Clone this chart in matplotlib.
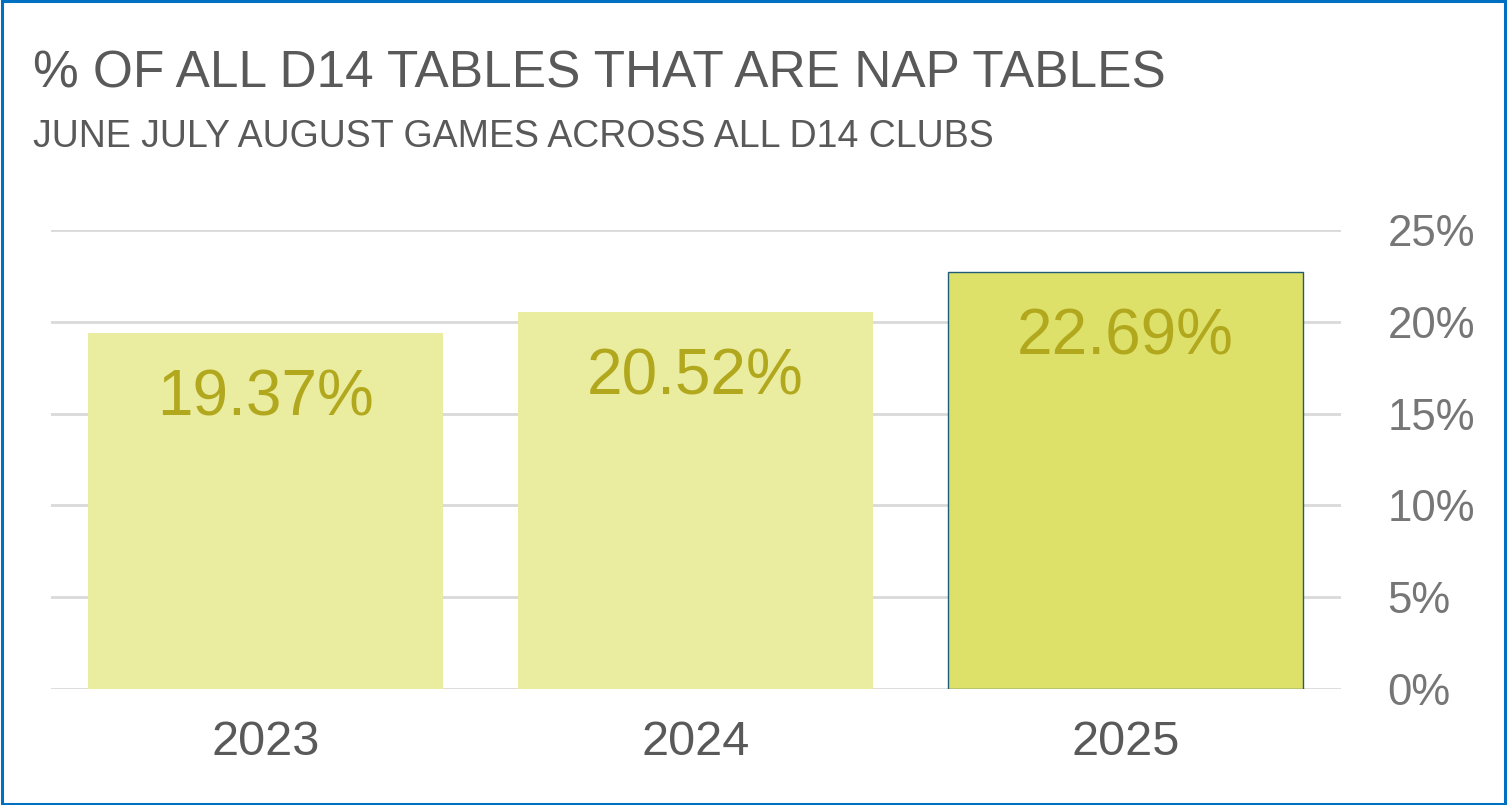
import matplotlib
matplotlib.use("Agg")
import matplotlib.pyplot as plt
from matplotlib.patches import Rectangle
from matplotlib.ticker import FuncFormatter, MultipleLocator
from matplotlib import font_manager

plt.rcParams['font.family'] = ['Liberation Sans', 'DejaVu Sans']

categories = ["2023", "2024", "2025"]
values = [19.37, 20.52, 22.69]
value_labels = ["19.37%", "20.52%", "22.69%"]
title = "% OF ALL D14 TABLES THAT ARE NAP TABLES"
subtitle = "JUNE JULY AUGUST GAMES ACROSS ALL D14 CLUBS"

names = {f.name for f in font_manager.fontManager.ttflist}
narrow = "Liberation Sans Narrow" in names
title_family = ["Liberation Sans Narrow", "Liberation Sans"] if narrow else ["Liberation Sans"]
title_size = 45 if narrow else 37
sub_size = 32 if narrow else 27

W, H = 1507, 805
fig = plt.figure(figsize=(W / 100, H / 100), dpi=100)
fig.patch.set_facecolor("white")

ax = fig.add_axes([50.5 / W, 116 / H, 1290 / W, 459 / H])
bar_colors = ["#EAEC9F", "#EAEC9F", "#DDE16A"]
edge_colors = ["none", "none", "#1F5C7A"]
x = list(range(len(categories)))
bars = ax.bar(x, values, width=355 / 430, color=bar_colors,
              edgecolor=edge_colors, linewidth=1.0, zorder=2)
ax.set_xlim(-0.5, len(categories) - 0.5)
ax.set_ylim(0, 25)
ax.yaxis.set_major_locator(MultipleLocator(5))
ax.yaxis.set_major_formatter(FuncFormatter(lambda v, p: f"{v:.0f}%"))
ax.yaxis.tick_right()
ax.grid(axis="y", color="#D9D9D9", linewidth=2, zorder=1)
ax.set_axisbelow(True)
for s in ax.spines.values():
    s.set_visible(False)
ax.tick_params(axis="y", length=0, pad=34, labelsize=31.5, labelcolor="#767676")
ax.tick_params(axis="x", length=0, pad=22, labelsize=35, labelcolor="#595959")
ax.set_xticks(x)
ax.set_xticklabels(categories)

for b, lab in zip(bars, value_labels):
    ax.annotate(lab, (b.get_x() + b.get_width() / 2, b.get_height()),
                xytext=(0, -47), textcoords="offset points",
                ha="center", va="center", fontsize=46, color="#B2A81D", zorder=3)

fig.text(33 / W, 1 - 87 / H, title, fontsize=title_size, color="#595959",
         ha="left", va="baseline", family=title_family)
fig.text(33 / W, 1 - 147 / H, subtitle, fontsize=sub_size, color="#595959",
         ha="left", va="baseline", family=title_family)

fig.patches.append(Rectangle((0.001, 0.0015), 0.998, 0.997, transform=fig.transFigure,
                             fill=False, edgecolor="#0070C0", linewidth=2.2, zorder=10))

fig.savefig("out.png", dpi=100)
